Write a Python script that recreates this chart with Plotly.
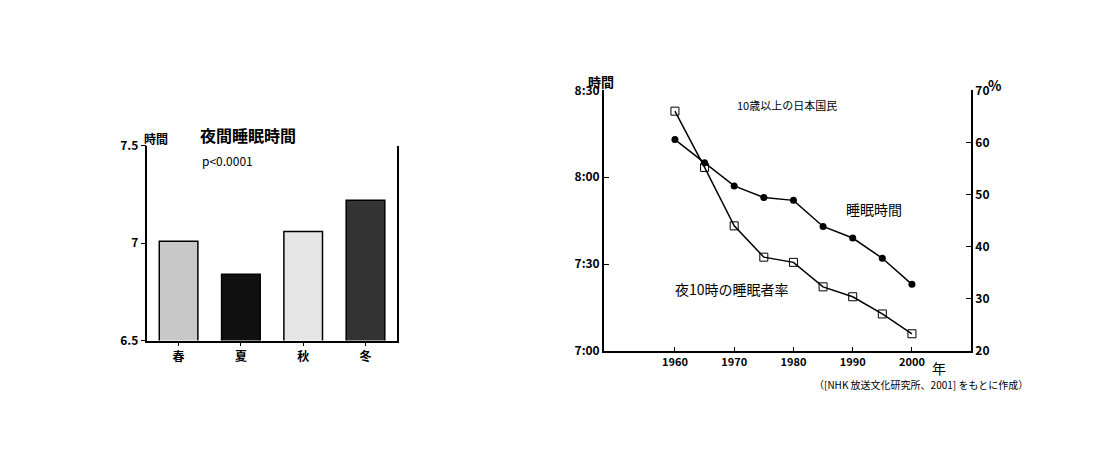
import plotly.graph_objects as go

# left: seasonal night sleep (hours)
seasons = ['春', '夏', '秋', '冬']
sleep_hours = [7.01, 6.84, 7.06, 7.22]
bar_colors = ['#c8c8c8', '#111111', '#e6e6e6', '#333333']

# right: NHK trend
years = [1960, 1965, 1970, 1975, 1980, 1985, 1990, 1995, 2000]
sleep_min = [493, 485, 477, 473, 472, 463, 459, 452, 443]   # minutes (8:13 = 493)
rate_pct = [66, 55.2, 44, 38, 37, 32.3, 30.4, 27.1, 23.3]

FONT = 'Noto Sans CJK JP'

fig = go.Figure()
fig.add_trace(go.Bar(x=seasons, y=sleep_hours, marker=dict(color=bar_colors, line=dict(color='black', width=1.5)),
                     width=0.62, xaxis='x', yaxis='y', showlegend=False))
fig.add_trace(go.Scatter(x=years, y=sleep_min, mode='lines+markers', xaxis='x2', yaxis='y2',
                         line=dict(color='black', width=1.5), marker=dict(symbol='circle', size=7, color='black'),
                         showlegend=False))
fig.add_trace(go.Scatter(x=years, y=rate_pct, mode='lines+markers', xaxis='x2', yaxis='y3',
                         line=dict(color='black', width=1.5),
                         marker=dict(symbol='square-open', size=8, color='black', line=dict(width=1)),
                         showlegend=False))

ax = dict(showgrid=False, zeroline=False, linecolor='black', linewidth=1.5, ticks='outside',
          tickcolor='black', tickfont=dict(family=FONT, size=12, color='black', weight='bold'))

fig.update_layout(
    width=1120, height=450, margin=dict(l=0, r=0, t=0, b=0),
    paper_bgcolor='white', plot_bgcolor='white', font=dict(family=FONT, color='black'),
    xaxis=dict(ax, domain=[0.1245, 0.347], anchor='y', ticklen=4),
    yaxis=dict(ax, domain=[0.255, 0.705], anchor='x', range=[6.5, 7.5], tickvals=[6.5, 7, 7.5],
               ticktext=['6.5', '7', '7.5'], mirror=True),
    xaxis2=dict(ax, domain=[0.532, 0.860], anchor='y2', range=[1948, 2010],
                tickvals=[1960, 1970, 1980, 1990, 2000], ticks='inside', ticklen=4,
                tickfont=dict(family=FONT, size=11, color='black', weight='bold')),
    yaxis2=dict(ax, domain=[0.231, 0.833], anchor='x2', range=[420, 510],
                tickvals=[420, 450, 480, 510], ticktext=['7:00', '7:30', '8:00', '8:30'], ticks='inside'),
    yaxis3=dict(ax, overlaying='y2', side='right', anchor='x2', range=[20, 70],
                tickvals=[20, 30, 40, 50, 60, 70], ticks='inside'),
)

def note(x, y, text, size=12, bold=False, xanchor='left'):
    if bold:
        text = '<b>' + text + '</b>'
    fig.add_annotation(x=x / 1120, y=1 - y / 450, xref='paper', yref='paper', text=text, showarrow=False,
                       xanchor=xanchor, yanchor='middle', font=dict(family=FONT, size=size, color='black'))

note(134, 125, '時間', 12, True)
note(190, 122, '夜間睡眠時間', 16, True)
note(192, 148, 'p<0.0001', 12)
note(578, 66, '時間', 13, True)
note(978, 70, '%', 14, True)
note(727, 90, '10歳以上の日本国民', 11)
note(836, 198, '睡眠時間', 14)
note(665, 282, '夜10時の睡眠者率', 14)
note(922, 364, '年', 14)
note(1022, 381, '（[NHK 放送文化研究所、2001] をもとに作成）', 10, xanchor='right')

fig.write_html("out.html")
